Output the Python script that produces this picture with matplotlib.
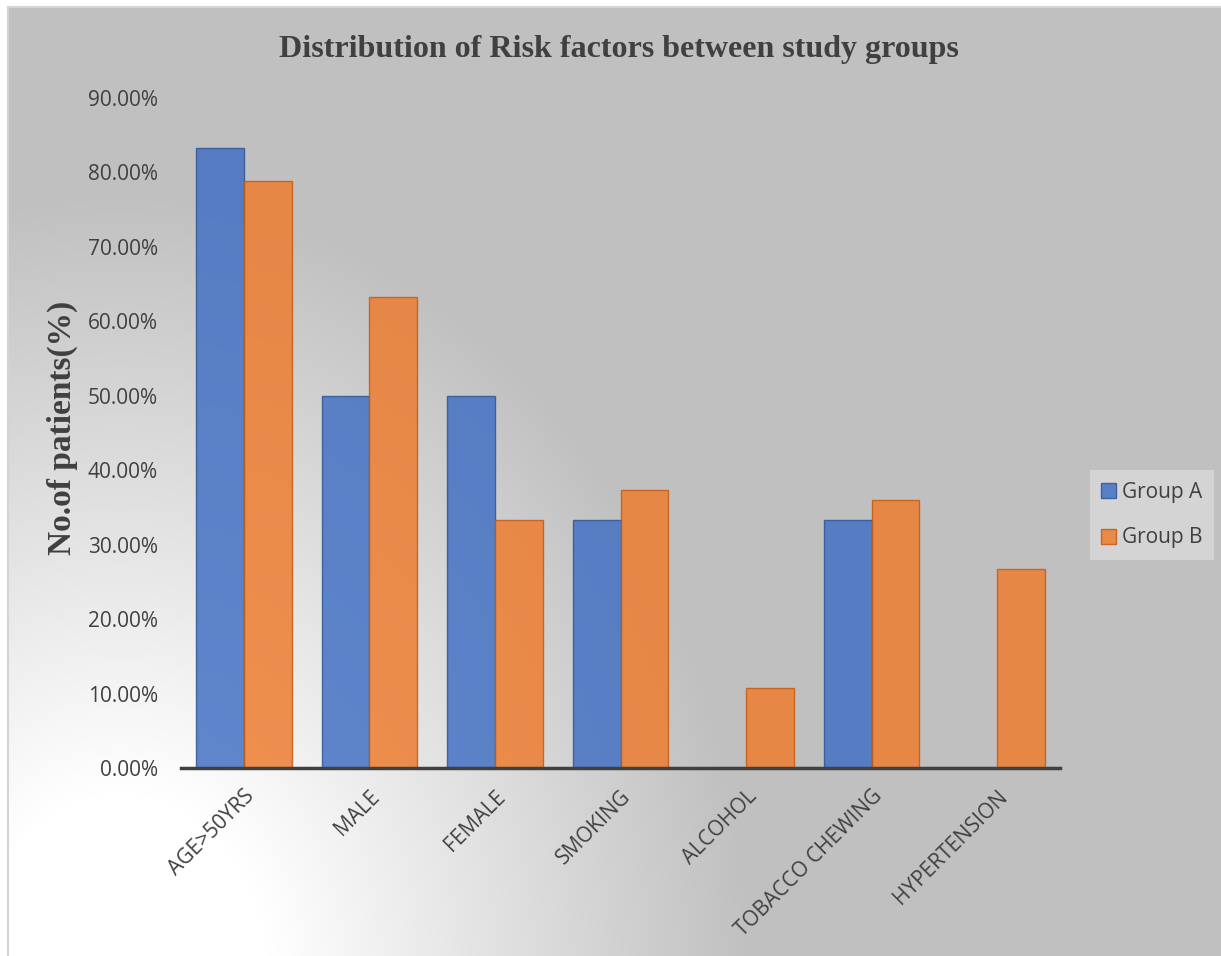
import numpy as np
import matplotlib
matplotlib.use("Agg")
import matplotlib.pyplot as plt

# data
categories = ["AGE>50YRS", "MALE", "FEMALE", "SMOKING", "ALCOHOL",
              "TOBACCO CHEWING", "HYPERTENSION"]
group_a = [83.33, 50.00, 50.00, 33.33, 0.0, 33.33, 0.0]
group_b = [78.9, 63.3, 33.3, 37.3, 10.7, 36.0, 26.7]
series_names = ["Group A", "Group B"]
y_ticks = [0, 10, 20, 30, 40, 50, 60, 70, 80, 90]

W, H = 1221, 956
fig = plt.figure(figsize=(W / 100, H / 100), dpi=100)
fig.patch.set_facecolor("white")

# background: grey with a soft white radial glow in the lower left
bg = fig.add_axes([8 / W, 0, 1 - 8 / W, 1 - 7 / H])
yy, xx = np.mgrid[7:H, 8:W]
d = np.hypot(xx - 120, (yy - 980) * 0.8)
t = np.clip((d - 150) / 480, 0, 1)
val = (255 - t * (255 - 192)) / 255
img = np.dstack([val, val, val])
bg.imshow(img, aspect="auto", extent=(0, 1, 0, 1), interpolation="bilinear")
bg.set_xlim(0, 1)
bg.set_ylim(0, 1)
bg.set_xticks([])
bg.set_yticks([])
for s in ["right", "bottom"]:
    bg.spines[s].set_visible(False)
for s in ["left", "top"]:
    bg.spines[s].set_color("#d4d4d4")
    bg.spines[s].set_linewidth(1.5)

ax = fig.add_axes([181 / W, 188 / H, (1060 - 181) / W, (768 - 98) / H])
ax.patch.set_alpha(0)

x = np.arange(len(categories))
w = 0.38
ax.bar(x - w / 2, group_a, w, color="#4472C4", alpha=0.85,
       edgecolor="#2f5597", linewidth=1.0, label=series_names[0])
ax.bar(x + w / 2, group_b, w, color="#ED7D31", alpha=0.85,
       edgecolor="#c55a11", linewidth=1.0, label=series_names[1])

ax.set_xlim(-0.5, len(categories) - 0.5)
ax.set_ylim(0, 90)
ax.set_yticks(y_ticks)
ax.set_yticklabels([f"{v:.2f}%" for v in y_ticks])
ax.set_xticks(x)
ax.set_xticklabels(categories, rotation=45, ha="right", rotation_mode="anchor")

ax.tick_params(axis="both", length=0, labelsize=15, labelcolor="#404040")
ax.tick_params(axis="y", pad=16.5)
ax.tick_params(axis="x", pad=13)
for lab in ax.get_xticklabels() + ax.get_yticklabels():
    lab.set_family("Open Sans")

for s in ["left", "right", "top"]:
    ax.spines[s].set_visible(False)
ax.spines["bottom"].set_color("#404040")
ax.spines["bottom"].set_linewidth(2.5)

fig.text(619 / W, 1 - 50 / H, "Distribution of Risk factors between study groups",
         ha="center", va="center", fontsize=23, fontweight="bold",
         family="Liberation Serif", color="#404040")
fig.text(62 / W, 1 - 428 / H, "No.of patients(%)", rotation=90,
         ha="center", va="center", fontsize=24, fontweight="bold",
         family="Liberation Serif", color="#404040")

leg = ax.legend(loc="center left", bbox_to_anchor=(1090 / W, 1 - 515 / H),
                bbox_transform=fig.transFigure, borderaxespad=0,
                frameon=True, fancybox=False,
                facecolor="#d4d4d4", edgecolor="none", framealpha=1,
                handlelength=0.72, handleheight=0.72, handletextpad=0.25,
                labelspacing=1.2, borderpad=0.55,
                prop={"family": "Open Sans", "size": 15})
for txt in leg.get_texts():
    txt.set_color("#404040")

fig.savefig("out.png", dpi=100)
